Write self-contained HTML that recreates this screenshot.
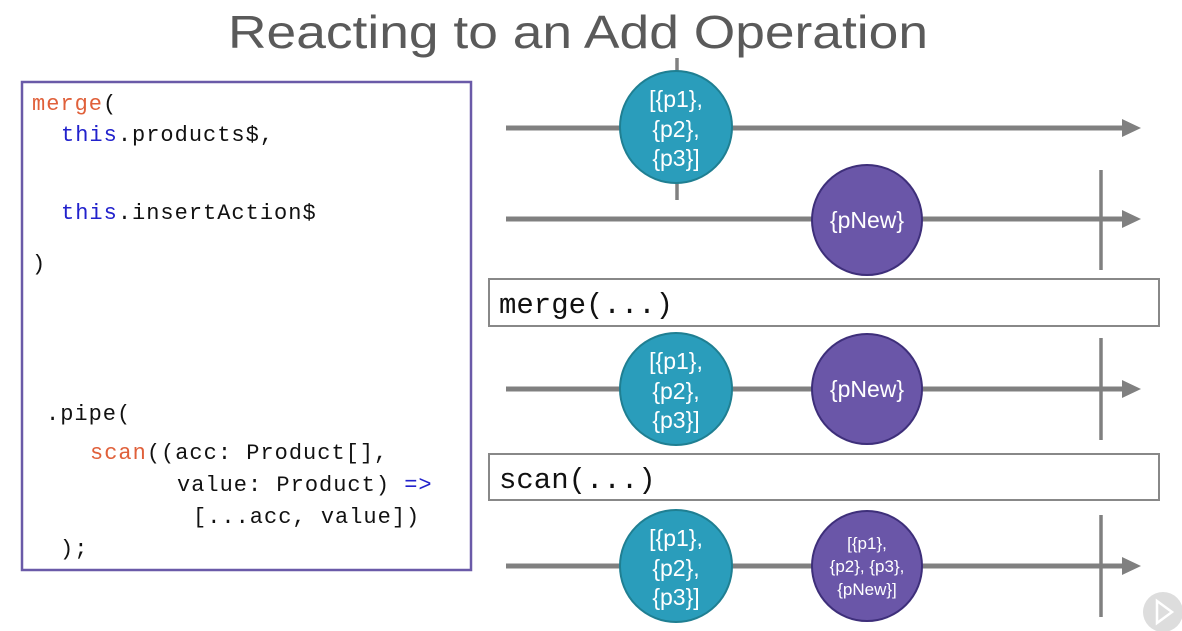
<!DOCTYPE html>
<html><head><meta charset="utf-8"><style>
html,body{margin:0;padding:0;background:#fff;}
svg{display:block;}
.c{font-family:"Liberation Mono",monospace;font-size:22px;letter-spacing:1px;fill:#111;}
.o{fill:#e0603a;}
.b{fill:#2222cc;}
.t{font-family:"Liberation Sans",sans-serif;fill:#fff;text-anchor:middle;font-size:23px;}
</style></head><body>
<svg width="1182" height="631" viewBox="0 0 1182 631" xmlns="http://www.w3.org/2000/svg">
<text x="228" y="48" textLength="700" lengthAdjust="spacingAndGlyphs" font-family="Liberation Sans,sans-serif" font-size="46" fill="#5a5a5a">Reacting to an Add Operation</text>
<rect x="22" y="82" width="449" height="488" fill="#fff" stroke="#6a5aa8" stroke-width="2.5"/>
<text class="c" x="32" y="110"><tspan class="o">merge</tspan>(</text>
<text class="c" x="61" y="141"><tspan class="b">this</tspan>.products$,</text>
<text class="c" x="61" y="219"><tspan class="b">this</tspan>.insertAction$</text>
<text class="c" x="32" y="270">)</text>
<text class="c" x="46" y="420">.pipe(</text>
<text class="c" x="90" y="459"><tspan class="o">scan</tspan>((acc: Product[],</text>
<text class="c" x="177" y="491">value: Product) <tspan class="b">=&gt;</tspan></text>
<text class="c" x="193" y="523">[...acc, value])</text>
<text class="c" x="60" y="555">);</text>
<g stroke="#808080" stroke-width="5">
<line x1="506" y1="128" x2="1126" y2="128"/>
<line x1="506" y1="219" x2="1126" y2="219"/>
<line x1="506" y1="389" x2="1126" y2="389"/>
<line x1="506" y1="566" x2="1126" y2="566"/>
</g>
<g fill="#808080">
<polygon points="1122,119 1141,128 1122,137"/>
<polygon points="1122,210 1141,219 1122,228"/>
<polygon points="1122,380 1141,389 1122,398"/>
<polygon points="1122,557 1141,566 1122,575"/>
</g>
<g stroke="#808080" stroke-width="3.5">
<line x1="677" y1="58" x2="677" y2="200"/>
<line x1="1101" y1="170" x2="1101" y2="270"/>
<line x1="1101" y1="338" x2="1101" y2="440"/>
<line x1="1101" y1="515" x2="1101" y2="617"/>
</g>
<rect x="489" y="279" width="670" height="47" fill="#fff" stroke="#888" stroke-width="2"/>
<text class="c" x="499" y="313" style="font-size:29px;letter-spacing:0">merge(...)</text>
<rect x="489" y="454" width="670" height="46" fill="#fff" stroke="#888" stroke-width="2"/>
<text class="c" x="499" y="488" style="font-size:29px;letter-spacing:0">scan(...)</text>
<g stroke="#1f7f92" stroke-width="2" fill="#2a9dbb">
<circle cx="676" cy="127" r="56"/>
<circle cx="676" cy="389" r="56"/>
<circle cx="676" cy="566" r="56"/>
</g>
<g stroke="#3e2f7a" stroke-width="2" fill="#6a56a8">
<circle cx="867" cy="220" r="55"/>
<circle cx="867" cy="389" r="55"/>
<circle cx="867" cy="566" r="55"/>
</g>
<g class="t">
<text x="676" y="107">[{p1},</text><text x="676" y="137">{p2},</text><text x="676" y="166">{p3}]</text>
<text x="676" y="369">[{p1},</text><text x="676" y="399">{p2},</text><text x="676" y="428">{p3}]</text>
<text x="676" y="546">[{p1},</text><text x="676" y="576">{p2},</text><text x="676" y="605">{p3}]</text>
<text x="867" y="228">{pNew}</text>
<text x="867" y="397">{pNew}</text>
<text x="867" y="549" style="font-size:17px">[{p1},</text>
<text x="867" y="572" style="font-size:17px">{p2}, {p3},</text>
<text x="867" y="595" style="font-size:17px">{pNew}]</text>
</g>
<circle cx="1163" cy="612" r="20" fill="#ddd"/>
<polygon points="1157,601 1172,612 1157,623" fill="none" stroke="#fff" stroke-width="2.5"/>
</svg>
</body></html>
